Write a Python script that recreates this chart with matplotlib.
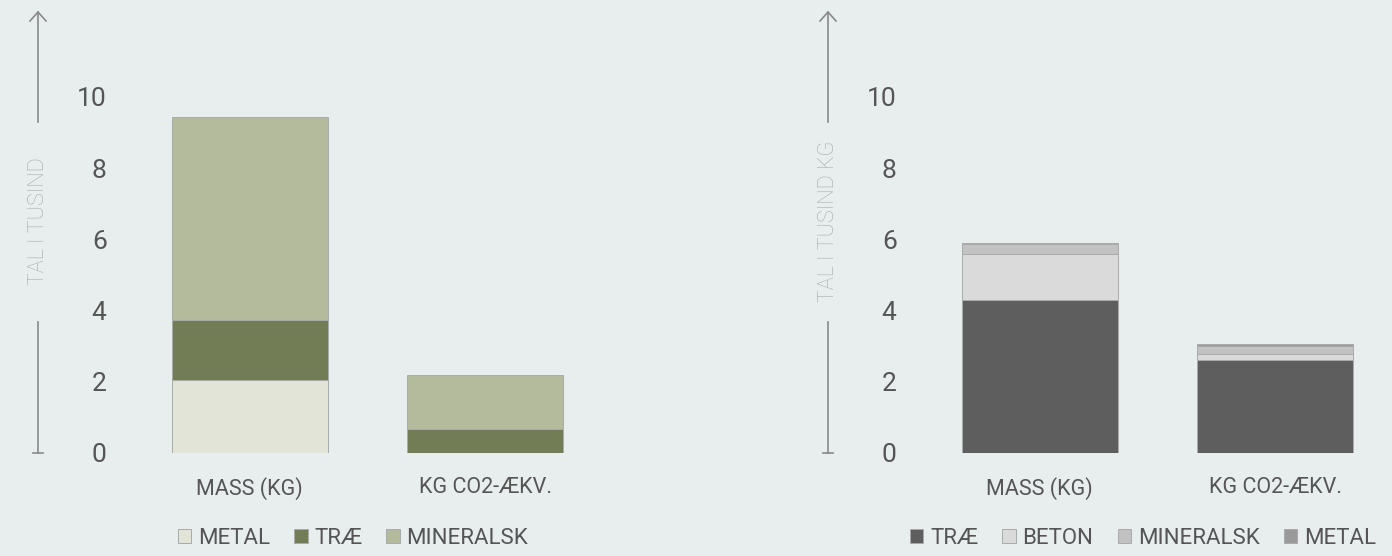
import matplotlib.pyplot as plt
from matplotlib.lines import Line2D
import numpy as np

plt.rcParams['font.family'] = ['Roboto', 'DejaVu Sans']

# data (tusinder)
categories = ['MASS (KG)', 'KG CO2-ÆKV.']

left_labels = ['METAL', 'TRÆ', 'MINERALSK']
left_metal = [2.05, 0.0]
left_trae = [1.69, 0.67]
left_mineralsk = [5.70, 1.52]
left_colors = ['#e3e4d8', '#737d55', '#b4ba9c']

right_labels = ['TRÆ', 'BETON', 'MINERALSK', 'METAL']
right_trae = [4.30, 2.61]
right_beton = [1.30, 0.17]
right_mineralsk = [0.27, 0.22]
right_metal = [0.03, 0.06]
right_colors = ['#5e5e5e', '#dadada', '#c2c2c2', '#9a9a9a']

yticks = [0, 2, 4, 6, 8, 10]

W, H = 1392, 556
bg = '#e8eeee'
txt = '#555555'

fig = plt.figure(figsize=(W / 100, H / 100), dpi=100, facecolor=bg)


def fx(px):
    return px / W


def fy(py):
    return 1 - py / H


def stacked(ax, series, colors, labels):
    x = np.arange(len(categories))
    bottom = np.zeros(len(categories))
    for vals, c, lab in zip(series, colors, labels):
        ax.bar(x, vals, 0.662, bottom=bottom, color=c, edgecolor='#aaaaaa',
               linewidth=0.7, label=lab)
        bottom += np.array(vals)
    ax.set_xlim(-0.467, 1.467)
    ax.set_ylim(0, 11)
    ax.set_yticks(yticks)
    ax.set_xticks(x)
    ax.set_xticklabels(categories, fontsize=15.5, color=txt)
    ax.tick_params(axis='y', length=0, pad=24, labelsize=19, labelcolor=txt)
    ax.tick_params(axis='x', length=0, pad=17)
    ax.set_facecolor(bg)
    for s in ax.spines.values():
        s.set_visible(False)


def axis_arrow(x, label):
    c = '#8a8a8a'
    lw = 1.2
    fig.add_artist(Line2D([fx(x), fx(x)], [fy(453), fy(322)], color=c, lw=lw))
    fig.add_artist(Line2D([fx(x), fx(x)], [fy(122), fy(12)], color=c, lw=lw))
    fig.add_artist(Line2D([fx(x - 5), fx(x + 5)], [fy(453), fy(453)], color=c, lw=lw))
    fig.add_artist(Line2D([fx(x - 8), fx(x), fx(x + 8)], [fy(21), fy(12), fy(21)],
                          color=c, lw=lw))
    fig.text(fx(x), fy(221), label, rotation=90, ha='center', va='center',
             fontsize=15.5, color='#a8a8a8', fontweight='light')


hh = 11 * 35.6
ax1 = fig.add_axes([fx(140), fy(453), fx(455), hh / H])
stacked(ax1, [left_metal, left_trae, left_mineralsk], left_colors, left_labels)
ax2 = fig.add_axes([fx(930), fy(453), fx(455), hh / H])
stacked(ax2, [right_trae, right_beton, right_mineralsk, right_metal], right_colors, right_labels)

axis_arrow(38, 'TAL I TUSIND')
axis_arrow(828, 'TAL I TUSIND KG')

for ax, cx, n in [(ax1, 353, 3), (ax2, 1143, 4)]:
    leg = ax.legend(loc='center', bbox_to_anchor=(fx(cx), fy(538)),
                    bbox_transform=fig.transFigure, ncol=n, frameon=False,
                    fontsize=16, handlelength=0.6, handleheight=0.6,
                    handletextpad=0.3, columnspacing=1.1, borderaxespad=0)
    for t in leg.get_texts():
        t.set_color(txt)

fig.savefig('out.png', dpi=100, facecolor=bg)
